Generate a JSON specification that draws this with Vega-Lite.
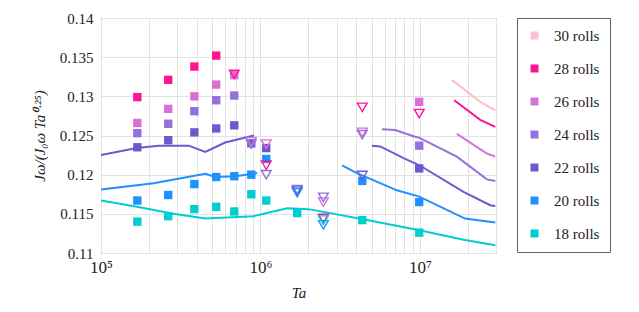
{
  "$schema": "https://vega.github.io/schema/vega-lite/v6.json",
  "width": 395,
  "height": 235,
  "autosize": {"type": "none"},
  "padding": {"left": 101, "top": 18, "right": 143, "bottom": 59},
  "config": {
    "font": "serif",
    "view": {"stroke": "#555", "strokeWidth": 1},
    "axis": {"labelFont": "serif", "titleFont": "serif", "labelFontSize": 15, "titleFontSize": 15, "titleFontWeight": "normal", "labelColor": "#222", "titleColor": "#222", "gridColor": "#e3e3e3", "gridWidth": 1, "domain": false, "ticks": false}
  },
  "datasets": {
    "pts": [
      {"rolls": "28 rolls", "kind": "sq", "Ta": 169000, "J": 0.1299},
      {"rolls": "28 rolls", "kind": "sq", "Ta": 264000, "J": 0.1321},
      {"rolls": "28 rolls", "kind": "sq", "Ta": 385000, "J": 0.1338},
      {"rolls": "28 rolls", "kind": "sq", "Ta": 528000, "J": 0.1352},
      {"rolls": "26 rolls", "kind": "sq", "Ta": 169000, "J": 0.1266},
      {"rolls": "26 rolls", "kind": "sq", "Ta": 264000, "J": 0.1284},
      {"rolls": "26 rolls", "kind": "sq", "Ta": 385000, "J": 0.1300},
      {"rolls": "26 rolls", "kind": "sq", "Ta": 528000, "J": 0.1315},
      {"rolls": "26 rolls", "kind": "sq", "Ta": 685000, "J": 0.1327},
      {"rolls": "26 rolls", "kind": "sq", "Ta": 9900000, "J": 0.1293},
      {"rolls": "24 rolls", "kind": "sq", "Ta": 169000, "J": 0.1253},
      {"rolls": "24 rolls", "kind": "sq", "Ta": 264000, "J": 0.1265},
      {"rolls": "24 rolls", "kind": "sq", "Ta": 385000, "J": 0.1281},
      {"rolls": "24 rolls", "kind": "sq", "Ta": 528000, "J": 0.1295},
      {"rolls": "24 rolls", "kind": "sq", "Ta": 685000, "J": 0.1301},
      {"rolls": "24 rolls", "kind": "sq", "Ta": 9900000, "J": 0.1237},
      {"rolls": "22 rolls", "kind": "sq", "Ta": 169000, "J": 0.1235},
      {"rolls": "22 rolls", "kind": "sq", "Ta": 264000, "J": 0.1244},
      {"rolls": "22 rolls", "kind": "sq", "Ta": 385000, "J": 0.1254},
      {"rolls": "22 rolls", "kind": "sq", "Ta": 528000, "J": 0.1259},
      {"rolls": "22 rolls", "kind": "sq", "Ta": 685000, "J": 0.1263},
      {"rolls": "22 rolls", "kind": "sq", "Ta": 876000, "J": 0.1240},
      {"rolls": "22 rolls", "kind": "sq", "Ta": 1087000, "J": 0.1234},
      {"rolls": "22 rolls", "kind": "sq", "Ta": 9900000, "J": 0.1208},
      {"rolls": "20 rolls", "kind": "sq", "Ta": 169000, "J": 0.1167},
      {"rolls": "20 rolls", "kind": "sq", "Ta": 264000, "J": 0.1174},
      {"rolls": "20 rolls", "kind": "sq", "Ta": 385000, "J": 0.1188},
      {"rolls": "20 rolls", "kind": "sq", "Ta": 528000, "J": 0.1197},
      {"rolls": "20 rolls", "kind": "sq", "Ta": 685000, "J": 0.1198},
      {"rolls": "20 rolls", "kind": "sq", "Ta": 876000, "J": 0.1200},
      {"rolls": "20 rolls", "kind": "sq", "Ta": 1087000, "J": 0.1220},
      {"rolls": "20 rolls", "kind": "sq", "Ta": 4350000, "J": 0.1192},
      {"rolls": "20 rolls", "kind": "sq", "Ta": 9900000, "J": 0.1165},
      {"rolls": "18 rolls", "kind": "sq", "Ta": 169000, "J": 0.1140},
      {"rolls": "18 rolls", "kind": "sq", "Ta": 264000, "J": 0.1147},
      {"rolls": "18 rolls", "kind": "sq", "Ta": 385000, "J": 0.1156},
      {"rolls": "18 rolls", "kind": "sq", "Ta": 528000, "J": 0.1159},
      {"rolls": "18 rolls", "kind": "sq", "Ta": 685000, "J": 0.1153},
      {"rolls": "18 rolls", "kind": "sq", "Ta": 876000, "J": 0.1175},
      {"rolls": "18 rolls", "kind": "sq", "Ta": 1087000, "J": 0.1167},
      {"rolls": "18 rolls", "kind": "sq", "Ta": 1700000, "J": 0.1151},
      {"rolls": "18 rolls", "kind": "sq", "Ta": 4350000, "J": 0.1142},
      {"rolls": "18 rolls", "kind": "sq", "Ta": 9900000, "J": 0.1126},
      {"rolls": "28 rolls", "kind": "tri", "Ta": 685000, "J": 0.1328},
      {"rolls": "28 rolls", "kind": "tri", "Ta": 1087000, "J": 0.1212},
      {"rolls": "28 rolls", "kind": "tri", "Ta": 2480000, "J": 0.1144},
      {"rolls": "28 rolls", "kind": "tri", "Ta": 4350000, "J": 0.1286},
      {"rolls": "28 rolls", "kind": "tri", "Ta": 9900000, "J": 0.1278},
      {"rolls": "26 rolls", "kind": "tri", "Ta": 876000, "J": 0.1242},
      {"rolls": "26 rolls", "kind": "tri", "Ta": 1087000, "J": 0.1239},
      {"rolls": "26 rolls", "kind": "tri", "Ta": 2480000, "J": 0.1165},
      {"rolls": "26 rolls", "kind": "tri", "Ta": 4350000, "J": 0.1254},
      {"rolls": "24 rolls", "kind": "tri", "Ta": 876000, "J": 0.1239},
      {"rolls": "24 rolls", "kind": "tri", "Ta": 1087000, "J": 0.1200},
      {"rolls": "24 rolls", "kind": "tri", "Ta": 1700000, "J": 0.1181},
      {"rolls": "24 rolls", "kind": "tri", "Ta": 2480000, "J": 0.1171},
      {"rolls": "24 rolls", "kind": "tri", "Ta": 4350000, "J": 0.1251},
      {"rolls": "22 rolls", "kind": "tri", "Ta": 1700000, "J": 0.1179},
      {"rolls": "22 rolls", "kind": "tri", "Ta": 4350000, "J": 0.1199},
      {"rolls": "20 rolls", "kind": "tri", "Ta": 1700000, "J": 0.1177},
      {"rolls": "20 rolls", "kind": "tri", "Ta": 2480000, "J": 0.1136},
      {"rolls": "18 rolls", "kind": "tri", "Ta": 2480000, "J": 0.1142}
    ],
    "lines": [
      {"rolls": "30 rolls", "seg": "30", "Ta": 15860000, "J": 0.1321},
      {"rolls": "30 rolls", "seg": "30", "Ta": 23900000, "J": 0.1293},
      {"rolls": "30 rolls", "seg": "30", "Ta": 29700000, "J": 0.1282},
      {"rolls": "28 rolls", "seg": "28", "Ta": 16400000, "J": 0.1295},
      {"rolls": "28 rolls", "seg": "28", "Ta": 23900000, "J": 0.1270},
      {"rolls": "28 rolls", "seg": "28", "Ta": 29700000, "J": 0.1261},
      {"rolls": "26 rolls", "seg": "26", "Ta": 17050000, "J": 0.1252},
      {"rolls": "26 rolls", "seg": "26", "Ta": 26300000, "J": 0.1227},
      {"rolls": "26 rolls", "seg": "26", "Ta": 29700000, "J": 0.1223},
      {"rolls": "24 rolls", "seg": "24", "Ta": 5780000, "J": 0.1258},
      {"rolls": "24 rolls", "seg": "24", "Ta": 7000000, "J": 0.1257},
      {"rolls": "24 rolls", "seg": "24", "Ta": 9120000, "J": 0.1249},
      {"rolls": "24 rolls", "seg": "24", "Ta": 9940000, "J": 0.1247},
      {"rolls": "24 rolls", "seg": "24", "Ta": 17050000, "J": 0.1223},
      {"rolls": "24 rolls", "seg": "24", "Ta": 26300000, "J": 0.1194},
      {"rolls": "24 rolls", "seg": "24", "Ta": 29700000, "J": 0.1192},
      {"rolls": "22 rolls", "seg": "22a", "Ta": 100000, "J": 0.1225},
      {"rolls": "22 rolls", "seg": "22a", "Ta": 168000, "J": 0.1234},
      {"rolls": "22 rolls", "seg": "22a", "Ta": 230000, "J": 0.1237},
      {"rolls": "22 rolls", "seg": "22a", "Ta": 355000, "J": 0.1237},
      {"rolls": "22 rolls", "seg": "22a", "Ta": 451000, "J": 0.1229},
      {"rolls": "22 rolls", "seg": "22a", "Ta": 600000, "J": 0.1241},
      {"rolls": "22 rolls", "seg": "22a", "Ta": 910000, "J": 0.1250},
      {"rolls": "22 rolls", "seg": "22b", "Ta": 5000000, "J": 0.1237},
      {"rolls": "22 rolls", "seg": "22b", "Ta": 5640000, "J": 0.1236},
      {"rolls": "22 rolls", "seg": "22b", "Ta": 7890000, "J": 0.1221},
      {"rolls": "22 rolls", "seg": "22b", "Ta": 9940000, "J": 0.1212},
      {"rolls": "22 rolls", "seg": "22b", "Ta": 18760000, "J": 0.1178},
      {"rolls": "22 rolls", "seg": "22b", "Ta": 27600000, "J": 0.1161},
      {"rolls": "22 rolls", "seg": "22b", "Ta": 29700000, "J": 0.1160},
      {"rolls": "20 rolls", "seg": "20a", "Ta": 100000, "J": 0.1181},
      {"rolls": "20 rolls", "seg": "20a", "Ta": 214000, "J": 0.1189},
      {"rolls": "20 rolls", "seg": "20a", "Ta": 451000, "J": 0.1201},
      {"rolls": "20 rolls", "seg": "20a", "Ta": 520000, "J": 0.1197},
      {"rolls": "20 rolls", "seg": "20a", "Ta": 700000, "J": 0.1198},
      {"rolls": "20 rolls", "seg": "20a", "Ta": 955000, "J": 0.1202},
      {"rolls": "20 rolls", "seg": "20b", "Ta": 3250000, "J": 0.1212},
      {"rolls": "20 rolls", "seg": "20b", "Ta": 4030000, "J": 0.1202},
      {"rolls": "20 rolls", "seg": "20b", "Ta": 7170000, "J": 0.1180},
      {"rolls": "20 rolls", "seg": "20b", "Ta": 9900000, "J": 0.1172},
      {"rolls": "20 rolls", "seg": "20b", "Ta": 19200000, "J": 0.1144},
      {"rolls": "20 rolls", "seg": "20b", "Ta": 29700000, "J": 0.1139},
      {"rolls": "18 rolls", "seg": "18", "Ta": 100000, "J": 0.1167},
      {"rolls": "18 rolls", "seg": "18", "Ta": 168000, "J": 0.1159},
      {"rolls": "18 rolls", "seg": "18", "Ta": 285000, "J": 0.1150},
      {"rolls": "18 rolls", "seg": "18", "Ta": 451000, "J": 0.1144},
      {"rolls": "18 rolls", "seg": "18", "Ta": 905000, "J": 0.1147},
      {"rolls": "18 rolls", "seg": "18", "Ta": 1470000, "J": 0.1157},
      {"rolls": "18 rolls", "seg": "18", "Ta": 2000000, "J": 0.1156},
      {"rolls": "18 rolls", "seg": "18", "Ta": 4410000, "J": 0.1143},
      {"rolls": "18 rolls", "seg": "18", "Ta": 9940000, "J": 0.1129},
      {"rolls": "18 rolls", "seg": "18", "Ta": 18760000, "J": 0.1117},
      {"rolls": "18 rolls", "seg": "18", "Ta": 29700000, "J": 0.1110}
    ]
  },
  "encoding": {
    "x": {
      "field": "Ta", "type": "quantitative",
      "scale": {"type": "log", "domain": [100000, 30000000], "nice": false},
      "axis": {
        "title": "Ta", "titleFontStyle": "italic", "titlePadding": 10,
        "values": [100000, 200000, 300000, 400000, 500000, 600000, 700000, 800000, 900000, 1000000, 2000000, 3000000, 4000000, 5000000, 6000000, 7000000, 8000000, 9000000, 10000000, 20000000, 30000000],
        "labelExpr": "datum.value == 100000 ? '10⁵' : datum.value == 1000000 ? '10⁶' : datum.value == 10000000 ? '10⁷' : ''",
        "labelPadding": 6, "labelFlush": false, "labelFontSize": 17
      }
    },
    "y": {
      "field": "J", "type": "quantitative",
      "scale": {"domain": [0.11, 0.14], "nice": false, "zero": false},
      "axis": {
        "title": "Jω/(J₀ω Ta⁰·²⁵)", "titleFontStyle": "italic", "titlePadding": 12,
        "values": [0.11, 0.115, 0.12, 0.125, 0.13, 0.135, 0.14],
        "format": ".3~f", "labelPadding": 8
      }
    },
    "color": {
      "field": "rolls", "type": "nominal",
      "scale": {
        "domain": ["30 rolls", "28 rolls", "26 rolls", "24 rolls", "22 rolls", "20 rolls", "18 rolls"],
        "range": ["#ffc0cb", "#ff1493", "#da70d6", "#9370db", "#6a5acd", "#1e90ff", "#00ced1"]
      },
      "legend": {
        "title": null, "orient": "none", "legendX": 416, "legendY": 0,
        "symbolType": "square", "symbolSize": 64, "symbolStrokeWidth": 0,
        "labelFont": "serif", "labelFontSize": 15, "labelColor": "#222",
        "labelOffset": 12, "rowPadding": 17, "padding": 10,
        "strokeColor": "#666", "fillColor": "white"
      }
    }
  },
  "layer": [
    {
      "data": {"name": "lines"},
      "mark": {"type": "line", "strokeWidth": 2},
      "encoding": {"detail": {"field": "seg"}}
    },
    {
      "data": {"name": "pts"},
      "transform": [{"filter": "datum.kind == 'sq'"}],
      "mark": {"type": "point", "shape": "square", "filled": true, "size": 70, "opacity": 1}
    },
    {
      "data": {"name": "pts"},
      "transform": [{"filter": "datum.kind == 'tri'"}],
      "mark": {"type": "point", "shape": "triangle-down", "filled": false, "size": 95, "strokeWidth": 1.4, "opacity": 1}
    }
  ]
}
